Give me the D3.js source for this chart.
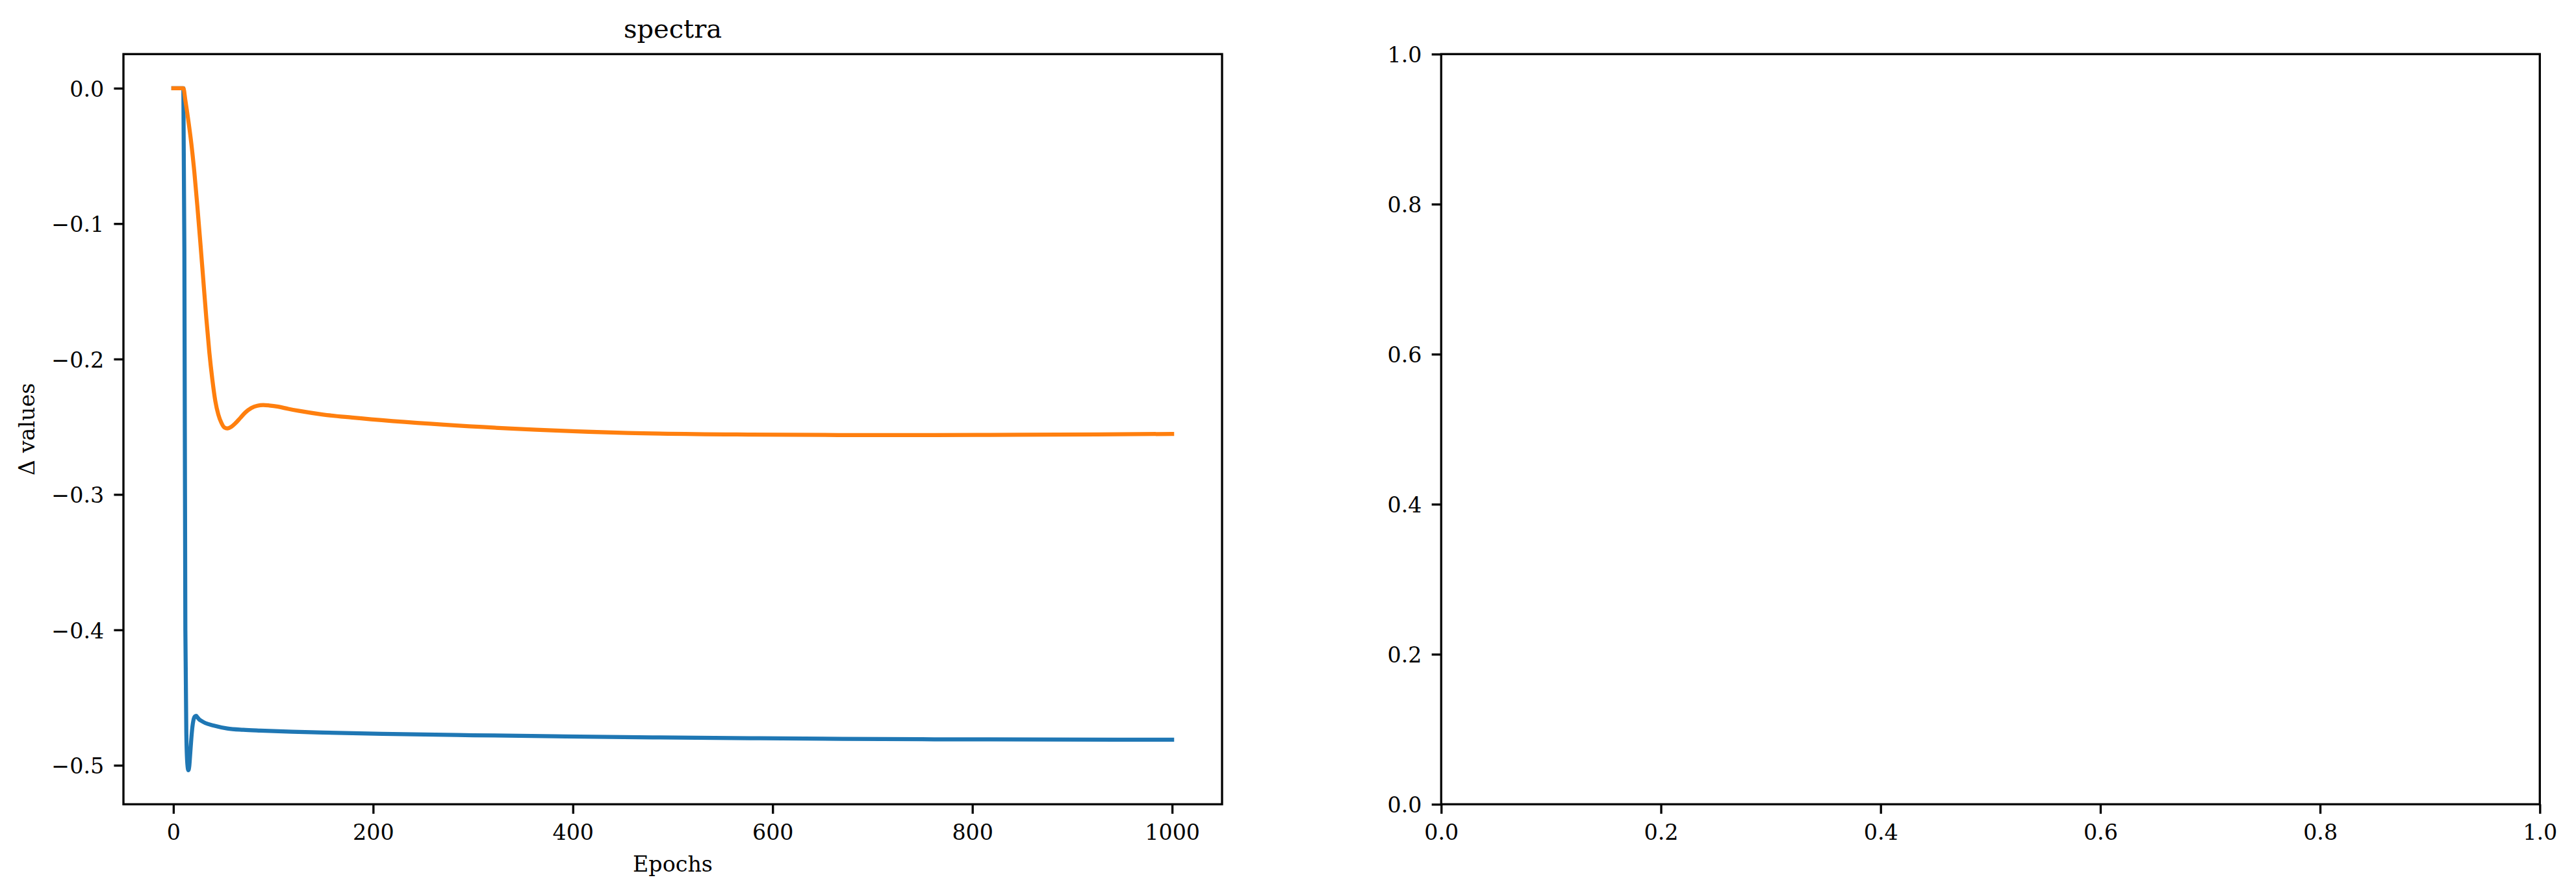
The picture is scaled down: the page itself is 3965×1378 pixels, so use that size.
<!DOCTYPE html>
<html>
<head>
<meta charset="utf-8">
<script src="https://cdn.jsdelivr.net/npm/d3@7"></script>
<style>
  html, body { margin: 0; padding: 0; background: #ffffff; }
  svg { display: block; }
  text { font-family: "DejaVu Serif", serif; fill: #000; }
</style>
</head>
<body>
<svg id="chart" width="3965" height="1378"></svg>
<script>
// ---------------- data ----------------
const titleText = "spectra";
const xLabelText = "Epochs";
const yLabelText = "\u0394 values";

// series 1 (blue, C0)
const blueEpochs = [0, 5, 10, 11, 12, 13, 14, 15, 16, 17, 18, 19, 20, 21, 22, 23, 24, 26, 28, 32, 40, 54, 70, 87, 119, 150, 209, 300, 393, 480, 578, 670, 762, 880, 1000];
const blueValues = [0, 0, 0, -0.12, -0.40, -0.478, -0.499, -0.5036, -0.500, -0.490, -0.480, -0.472, -0.467, -0.4645, -0.4636, -0.4635, -0.4645, -0.4662, -0.4672, -0.4688, -0.4706, -0.4728, -0.4738, -0.4744, -0.4752, -0.4758, -0.4768, -0.4778, -0.4787, -0.4794, -0.4800, -0.4805, -0.4808, -0.4810, -0.4811];

// series 2 (orange, C1)
const orangeEpochs = [0, 5, 10, 12, 15, 18, 21, 24, 27, 30, 33, 36, 39, 42, 45, 48, 51, 54, 58, 62, 67, 72, 78, 84, 90, 96, 105, 115, 125, 150, 179, 271, 363, 455, 578, 670, 762, 885, 1000];
const orangeValues = [0, 0, 0, -0.009, -0.024, -0.041, -0.062, -0.087, -0.114, -0.142, -0.170, -0.195, -0.215, -0.231, -0.241, -0.247, -0.2505, -0.2512, -0.2500, -0.2475, -0.2435, -0.2395, -0.2362, -0.2345, -0.2340, -0.2343, -0.2352, -0.2368, -0.2382, -0.2410, -0.2432, -0.2485, -0.2522, -0.2546, -0.2558, -0.2561, -0.2561, -0.2558, -0.2553];

const seriesColors = ["#1f77b4", "#ff7f0e"];

const leftXTicks = [0, 200, 400, 600, 800, 1000];
const leftYTicks = [0, -0.1, -0.2, -0.3, -0.4, -0.5];
const rightTicks = [0, 0.2, 0.4, 0.6, 0.8, 1.0];

// ---------------- layout ----------------
const svg = d3.select("#chart");
const TICK_LEN = 14.6, TICK_W = 3.33, SPINE_W = 3.33, FONT = 33.3;
const panelTop = 83.3, panelBottom = 1238.3;
const leftPanel = { x0: 190, x1: 1881 };
const rightPanel = { x0: 2218.3, x1: 3909.3 };

const fmt = v => {
  const s = d3.format(".1f")(Math.abs(v) < 1e-9 ? 0 : v);
  return s.replace("-", "\u2212");
};

function padDomain(ext) {
  const r = ext[1] - ext[0];
  return [ext[0] - 0.05 * r, ext[1] + 0.05 * r];
}

const blue = blueEpochs.map((e, i) => ({ x: e, y: blueValues[i] }));
const orange = orangeEpochs.map((e, i) => ({ x: e, y: orangeValues[i] }));
const all = blue.concat(orange);

const xL = d3.scaleLinear()
  .domain(padDomain(d3.extent(all, d => d.x)))
  .range([leftPanel.x0, leftPanel.x1]);
const yL = d3.scaleLinear()
  .domain(padDomain(d3.extent(all, d => d.y)))
  .range([panelBottom, panelTop]);

const xR = d3.scaleLinear().domain([0, 1]).range([rightPanel.x0, rightPanel.x1]);
const yR = d3.scaleLinear().domain([0, 1]).range([panelBottom, panelTop]);

function drawAxes(xs, ys, xt, yt) {
  const g = svg.append("g");
  const bottom = g.append("g")
    .attr("transform", `translate(0,${panelBottom})`)
    .call(d3.axisBottom(xs).tickValues(xt).tickSize(TICK_LEN).tickPadding(14.6).tickFormat(d => xs === xL ? d3.format("d")(d) : fmt(d)));
  const left = g.append("g")
    .attr("transform", `translate(${xs.range()[0]},0)`)
    .call(d3.axisLeft(ys).tickValues(yt).tickSize(TICK_LEN).tickPadding(14.6).tickFormat(fmt));
  [bottom, left].forEach(a => {
    a.select(".domain").remove();
    a.selectAll(".tick line").attr("stroke", "#000").attr("stroke-width", TICK_W);
    a.selectAll(".tick text")
      .style("font-family", "'DejaVu Serif', serif")
      .style("font-size", FONT + "px")
      .attr("fill", "#000");
  });
  bottom.selectAll(".tick text").attr("dy", null).attr("y", 1293 - panelBottom).attr("dominant-baseline", "alphabetic");
  left.selectAll(".tick text").attr("dy", null).attr("y", 12.3).attr("x", -29.8);
  // frame (spines)
  g.append("rect")
    .attr("x", xs.range()[0]).attr("y", panelTop)
    .attr("width", xs.range()[1] - xs.range()[0])
    .attr("height", panelBottom - panelTop)
    .attr("fill", "none").attr("stroke", "#000").attr("stroke-width", SPINE_W)
    .attr("stroke-linejoin", "miter");
  return g;
}

// ---------------- left panel ----------------
const clipId = "clipL";
svg.append("clipPath").attr("id", clipId).append("rect")
  .attr("x", leftPanel.x0).attr("y", panelTop)
  .attr("width", leftPanel.x1 - leftPanel.x0).attr("height", panelBottom - panelTop);

const line = d3.line().x(d => xL(d.x)).y(d => yL(d.y)).curve(d3.curveMonotoneX);
const plot = svg.append("g").attr("clip-path", `url(#${clipId})`);
[blue, orange].forEach((s, i) => {
  plot.append("path")
    .datum(s)
    .attr("d", line)
    .attr("fill", "none")
    .attr("stroke", seriesColors[i])
    .attr("stroke-width", 6.25)
    .attr("stroke-linecap", "square")
    .attr("stroke-linejoin", "round");
});

drawAxes(xL, yL, leftXTicks, leftYTicks);

svg.append("text")
  .attr("x", (leftPanel.x0 + leftPanel.x1) / 2).attr("y", 58)
  .attr("text-anchor", "middle")
  .style("font-size", "40px")
  .text(titleText);

svg.append("text")
  .attr("x", (leftPanel.x0 + leftPanel.x1) / 2).attr("y", 1342)
  .attr("text-anchor", "middle")
  .style("font-size", FONT + "px")
  .text(xLabelText);

svg.append("text")
  .attr("transform", `translate(53,${(panelTop + panelBottom) / 2}) rotate(-90)`)
  .attr("text-anchor", "middle")
  .style("font-size", FONT + "px")
  .text(yLabelText);

// ---------------- right panel (empty axes) ----------------
drawAxes(xR, yR, rightTicks, rightTicks);
</script>
</body>
</html>
